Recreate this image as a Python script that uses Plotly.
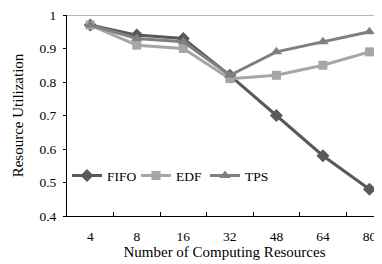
import plotly.graph_objects as go

categories = ["4", "8", "16", "32", "48", "64", "80"]
fifo = [0.97, 0.94, 0.93, 0.82, 0.70, 0.58, 0.48]
edf = [0.97, 0.91, 0.90, 0.81, 0.82, 0.85, 0.89]
tps = [0.97, 0.93, 0.92, 0.82, 0.89, 0.92, 0.95]
y_ticks = [0.4, 0.5, 0.6, 0.7, 0.8, 0.9, 1.0]
y_labels = ["0.4", "0.5", "0.6", "0.7", "0.8", "0.9", "1"]

FONT = "Liberation Serif"

fig = go.Figure()
series = [
    ("FIFO", fifo, "#595959", "diamond", 10),
    ("EDF", edf, "#A6A6A6", "square", 9),
    ("TPS", tps, "#808080", "triangle-up", 10),
]
for name, vals, color, sym, size in series:
    fig.add_trace(go.Scatter(
        x=categories, y=vals, name=name, mode="lines+markers",
        line=dict(color=color, width=3),
        marker=dict(symbol=sym, size=size, color=color),
    ))

fig.add_shape(type="line", xref="paper", yref="y", x0=0, x1=1, y0=1, y1=1,
              line=dict(color="#6f6f6f", width=1))

# page has an 8px body margin, so the figure is sized to the visible area
fig.update_layout(
    width=374, height=256,
    margin=dict(l=59, r=0, t=7, b=48, autoexpand=False),
    paper_bgcolor="white", plot_bgcolor="white",
    font=dict(family=FONT, size=13.5, color="black"),
    showlegend=True,
    legend=dict(orientation="h", x=0.0, y=0.2, xanchor="left", yanchor="middle",
                bgcolor="rgba(0,0,0,0)", font=dict(family=FONT, size=13.5),
                entrywidth=24, tracegroupgap=0),
    xaxis=dict(
        type="category", range=[-0.5, 6.27], automargin=False,
        showline=True, linecolor="black", linewidth=1,
        ticks="inside", ticklen=4, tickcolor="black", tickson="boundaries",
        showgrid=False, zeroline=False,
        ticklabelstandoff=8, ticklabeloverflow="allow",
        tickfont=dict(family=FONT, size=13.5),
        title=dict(text="Number of Computing Resources", standoff=3,
                   font=dict(family=FONT, size=15)),
    ),
    yaxis=dict(
        range=[0.4, 1.0], tickvals=y_ticks, ticktext=y_labels, automargin=False,
        showline=True, linecolor="black", linewidth=1,
        ticks="outside", ticklen=3, tickcolor="black",
        showgrid=False, zeroline=False,
        ticklabelstandoff=4, ticklabeloverflow="allow",
        tickfont=dict(family=FONT, size=13.5),
        title=dict(text="Resource Utilization", standoff=12,
                   font=dict(family=FONT, size=15)),
    ),
)

fig.write_html("out.html")
